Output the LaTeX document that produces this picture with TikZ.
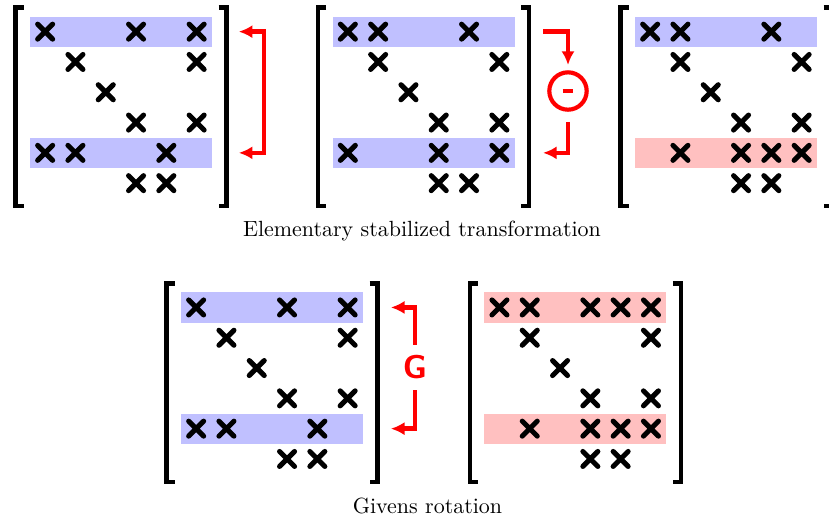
\documentclass[tikz,border=0pt]{standalone}
\usetikzlibrary{arrows.meta}
\definecolor{bandblue}{RGB}{192,192,255}
\definecolor{bandred}{RGB}{255,192,192}
\tikzset{
  xmark/.pic={\draw[line width=2.3pt,line cap=round] (-7.5,-7.5)--(7.5,7.5) (-7.5,7.5)--(7.5,-7.5);},
  band/.style={rectangle,inner sep=0pt,outer sep=0pt,minimum width=82.72pt,minimum height=13.79pt,draw=none},
  bracketline/.style={line width=2pt},
  redarr/.style={draw=red,line width=2pt,-{Latex[length=6.2pt,width=6pt]}},
  redarrboth/.style={draw=red,line width=2pt,{Latex[length=6.2pt,width=6pt]}-{Latex[length=6.2pt,width=6pt]}},
  subnode/.style={circle,draw=red,line width=1.9pt,minimum size=17pt,inner sep=0pt},
  glabel/.style={text=red,font=\sffamily\bfseries\fontsize{15}{17}\selectfont,inner sep=0pt,outer sep=0pt,minimum height=20.5pt},
  caption/.style={anchor=base,inner sep=0pt}
}
\newcommand{\drawmat}[6]{%
  \begin{scope}[shift={(#2,#3)}]
    \node[band,fill=#4] (#1r1) at (105.4,15.15) {};
    \node[band,fill=#5] (#1r5) at (105.4,136.35) {};
    \foreach \r/\c in {#6} \pic at ({14.5+30.3*(\c-0.5)},{30.3*(\r-0.5)}) {xmark};
    \draw[bracketline] (8,-9)--(0,-9)--(0,189.5)--(8,189.5);
    \draw[bracketline] (203,-9)--(211,-9)--(211,189.5)--(203,189.5);
  \end{scope}}
\begin{document}
\begin{tikzpicture}[x=0.455pt,y=-0.455pt]
  \useasboundingbox (0,0) rectangle (829,520);
  \clip (0,0) rectangle (829,520);
  \drawmat{m1}{15.5}{16.5}{bandblue}{bandblue}{1/1,1/4,1/6,2/2,2/6,3/3,4/4,4/6,5/1,5/2,5/5,6/4,6/5}
  \drawmat{m2}{318.2}{16.5}{bandblue}{bandblue}{1/1,1/2,1/5,2/2,2/6,3/3,4/4,4/6,5/1,5/4,5/6,6/4,6/5}
  \drawmat{m3}{620.5}{16.5}{bandblue}{bandred}{1/1,1/2,1/5,2/2,2/6,3/3,4/4,4/6,5/2,5/4,5/5,5/6,6/4,6/5}
  \drawmat{m4}{166.5}{292.3}{bandblue}{bandblue}{1/1,1/4,1/6,2/2,2/6,3/3,4/4,4/6,5/1,5/2,5/5,6/4,6/5}
  \drawmat{m5}{469.8}{292.3}{bandred}{bandred}{1/1,1/2,1/4,1/5,1/6,2/2,2/6,3/3,4/4,4/6,5/2,5/4,5/5,5/6,6/4,6/5}

  % swap arrow
  \draw[redarrboth] ([xshift=12.3pt]m1r1.east) -- ++(25,0) |- ([xshift=12.3pt]m1r5.east);

  % subtraction
  \node[subnode] (sub) at (568,91) {\color{red}\rule{4.8pt}{1.9pt}};
  \draw[redarr] ([xshift=13pt]m2r1.east) -| ([yshift=2.4pt]sub.north);
  \draw[redarr] ([yshift=-4.6pt]sub.south) |- ([xshift=13pt]m2r5.east);

  % Givens
  \node[glabel] (G) at (415,367.5) {G};
  \draw[redarr] (G.north) |- ([xshift=12.8pt]m4r1.east);
  \draw[redarr] (G.south) |- ([xshift=12.8pt]m4r5.east);

  \node[caption] (cap1) at (422,236.7) {Elementary stabilized transformation};
  \node[caption] (cap2) at (427.5,513.3) {Givens rotation};
\end{tikzpicture}
\end{document}
